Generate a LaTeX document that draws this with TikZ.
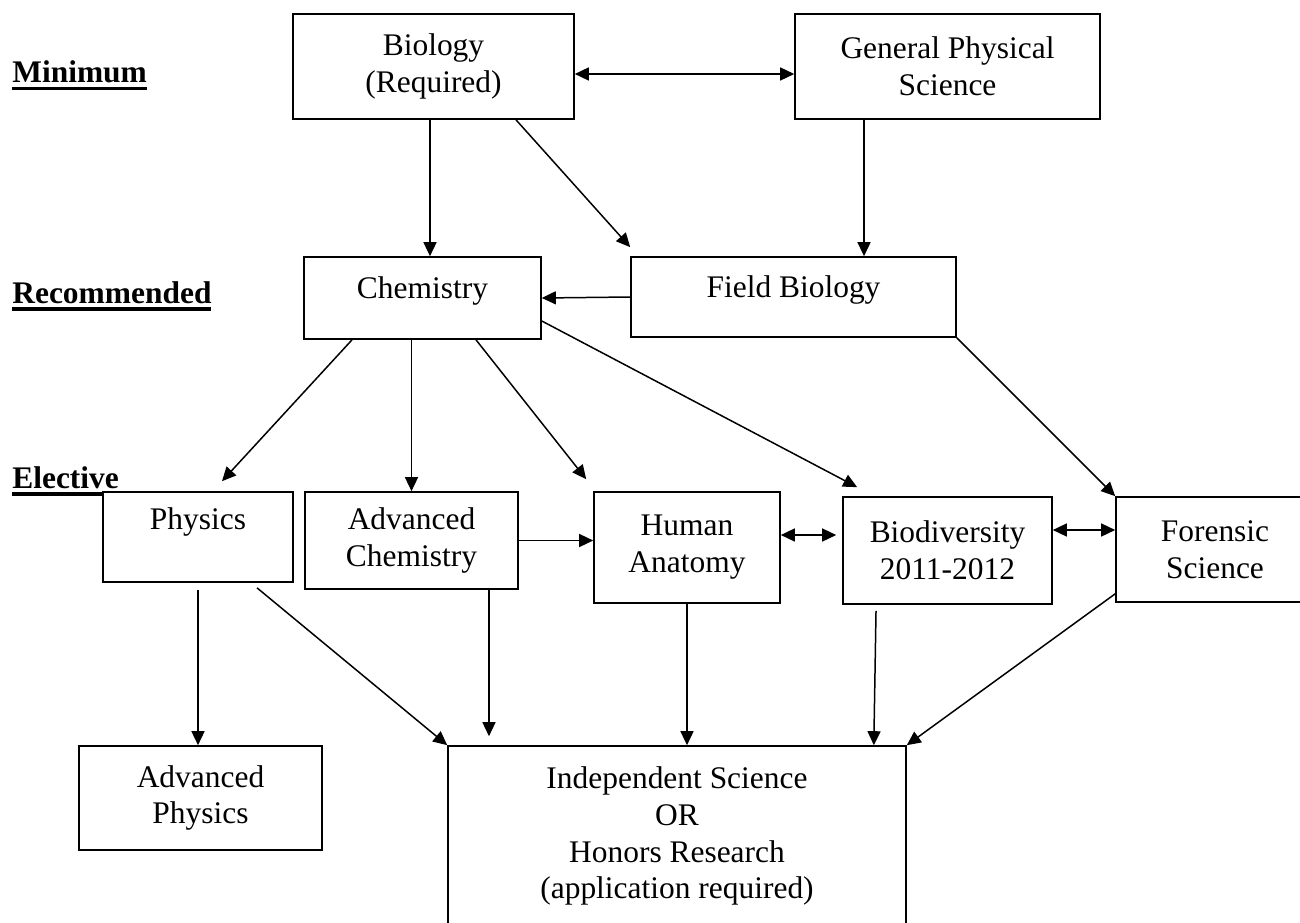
\documentclass[tikz,border=0pt]{standalone}
\usepackage{fontspec}
\setmainfont{Liberation Serif}
\usetikzlibrary{arrows.meta}
\newcommand{\levelname}[1]{\setbox0\hbox{\bfseries #1}\rlap{\rule[-0.15cm]{\wd0}{0.07cm}}\box0}

\begin{document}
\begin{tikzpicture}[x=0.02cm, y=-0.02cm, font=\fontsize{17.9pt}{21pt}\selectfont]
\tikzstyle{course}=[rectangle, draw, fill=white, line width=0.95pt, align=center, inner sep=0pt]
\tikzstyle{oneline}=[text height=0.4cm, text depth=0.4cm]
\tikzstyle{link}=[line width=0.85pt, -{Triangle[length=0.28cm,width=0.26cm]}]
\tikzstyle{twoway}=[line width=0.85pt, {Triangle[length=0.28cm,width=0.26cm]}-{Triangle[length=0.28cm,width=0.26cm]}]

\useasboundingbox (0,0) rectangle (1300,922);

% levels
\node[anchor=base west, inner sep=0pt] (lmin) at (12,83) {\levelname{Minimum}};
\node[anchor=base west, inner sep=0pt] (lrec) at (12,303) {\levelname{Recommended}};
\node[anchor=base west, inner sep=0pt] (lelec) at (12,488) {\levelname{Elective}};

% courses
\node[course, minimum width=5.62cm, minimum height=2.1cm] (bio) at (433.5,66.5) {Biology\\(Required)};
\node[course, minimum width=6.1cm, minimum height=2.1cm] (gps) at (947.5,66.5) {General Physical\\Science};

\node[course, oneline, minimum width=4.74cm, minimum height=1.64cm] (chem) at (422.5,298) {Chemistry};
\node[course, oneline, minimum width=6.5cm, minimum height=1.6cm] (field) at (793.5,297) {Field Biology};

\node[course, minimum width=3.8cm, minimum height=1.8cm] (phys) at (198,537) {Physics\\~};
\node[course, minimum width=4.26cm, minimum height=1.94cm] (achem) at (411.5,540.5) {Advanced\\Chemistry};
\node[course, minimum width=3.72cm, minimum height=2.22cm] (anat) at (687,547.5) {Human\\Anatomy};
\node[course, minimum width=4.18cm, minimum height=2.14cm] (biodiv) at (947.5,550.5) {Biodiversity\\2011-2012};
\node[course, minimum width=3.96cm, minimum height=2.1cm] (foren) at (1215,549.5) {Forensic\\Science};

\node[course, minimum width=4.86cm, minimum height=2.08cm] (aphys) at (200.5,798) {Advanced\\Physics};
\node[course, minimum width=9.16cm, minimum height=3.6cm] (indep) at (677,836) {Independent Science\\OR\\Honors Research\\(application required)};

% arrows
\draw[twoway] ([yshift=-0.15cm]bio.east) -- ([yshift=-0.15cm]gps.west);
\draw[link] ([xshift=-0.07cm]bio.south) -- ([xshift=-0.07cm]bio.south |- chem.north);
\draw[link] ([xshift=1.65cm]bio.south) -- ([yshift=0.18cm]field.north west);
\draw[link] ([xshift=-1.67cm]gps.south) -- ([xshift=-1.67cm]gps.south |- field.north);
\draw[link] (field.west) -- (chem.east);

\draw[link] ([xshift=-1.41cm]chem.south) -- ([xshift=0.48cm,yshift=0.2cm]phys.north);
\draw[link] (achem.north |- chem.south) -- (achem.north);
\draw[link] ([xshift=1.07cm]chem.south) -- ([xshift=-0.14cm,yshift=0.24cm]anat.north west);
\draw[link] ([yshift=-0.46cm]chem.east) -- ([xshift=0.3cm,yshift=0.18cm]biodiv.north west);
\draw[link] (field.south east) -- (foren.north west);

\draw[link] (achem.east) -- (achem.east -| anat.west);
\draw[twoway, shorten >=0.12cm] ([yshift=0.25cm]anat.east) -- ([yshift=0.25cm]anat.east -| biodiv.west);
\draw[twoway] ([yshift=0.41cm]biodiv.east) -- ([yshift=0.41cm]biodiv.east -| foren.west);

\draw[link] ([yshift=-0.14cm]phys.south) -- (phys.south |- aphys.north);
\draw[link] ([xshift=1.18cm,yshift=-0.1cm]phys.south) -- (indep.north west);
\draw[link, shorten >=0.18cm] ([xshift=1.55cm]achem.south) -- ([xshift=1.55cm]achem.south |- indep.north);
\draw[link] (anat.south) -- (anat.south |- indep.north);
\draw[link] ([xshift=-1.43cm,yshift=-0.12cm]biodiv.south) -- ([xshift=-0.66cm]indep.north east);
\draw[link] ([yshift=0.18cm]foren.south west) -- (indep.north east);
\end{tikzpicture}
\end{document}
